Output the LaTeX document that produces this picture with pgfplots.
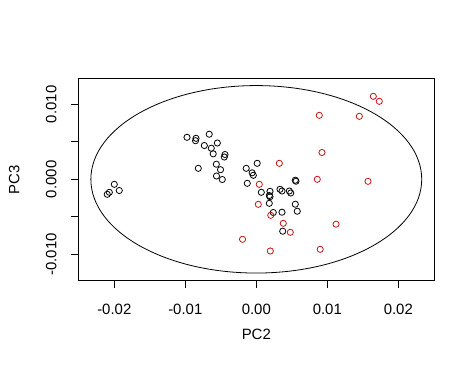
\documentclass[border=0pt]{standalone}
\usepackage{pgfplots}
\pgfplotsset{compat=1.18}
\usepackage{fontspec}
\setmainfont{Liberation Sans}
\definecolor{ptred}{RGB}{195,20,20}
\begin{document}
\begin{tikzpicture}
\begin{axis}[
  scale only axis,
  width=356bp, height=202.4bp,
  xmin=-0.02507, xmax=0.02507,
  ymin=-0.01352, ymax=0.01347,
  axis line style={line width=0.8bp},
  tick align=outside, tick pos=left,
  major tick length=7bp,
  tick style={black, line width=0.8bp},
  xtick={-0.02,-0.01,0,0.01,0.02},
  xticklabels={-0.02,-0.01,0.00,0.01,0.02},
  ytick={-0.01,-0.005,0,0.005,0.01},
  yticklabels={-0.010,,0.000,,0.010},
  scaled ticks=false,
  /pgf/number format/assume math mode=true,
  ticklabel style={font=\fontsize{15}{17}\selectfont},
  xticklabel shift=13.3bp,
  yticklabel style={rotate=90, anchor=south},
  yticklabel shift=11.3bp,
  xlabel={PC2}, ylabel={PC3},
  label style={font=\fontsize{15}{17}\selectfont},
  xlabel style={at={(axis description cs:0.5,-0.2895)}, anchor=base},
  ylabel style={at={(axis description cs:-0.1657,0.5)}, anchor=base, rotate=0},
]
\draw[line width=0.8bp] (axis cs:0,0) ellipse [x radius=0.0233, y radius=0.0125];
\addplot[only marks, mark=o, mark size=3.1bp, mark options={line width=0.8bp, draw=black}] coordinates {
(-0.02000,-0.000667) (-0.01930,-0.001493) (-0.02070,-0.001733) (-0.02099,-0.0020)
(-0.00976,0.0056) (-0.00849,0.005467) (-0.00856,0.005147) (-0.00663,0.006013)
(-0.00732,0.004507) (-0.00634,0.004147) (-0.00549,0.00484) (-0.00607,0.0034)
(-0.00441,0.003307) (-0.00451,0.002973) (-0.00817,0.001467) (-0.00563,0.002013)
(-0.00504,0.00128) (-0.00561,0.00044) (-0.00479,-0.000027)
(0.000127,0.002133) (-0.00142,0.001467) (-0.00059,0.000867) (-0.00042,0.000533)
(-0.00127,-0.000533) (0.000704,-0.001733) (0.00193,-0.0016) (0.00183,-0.00216)
(0.00193,-0.00232) (0.00334,-0.001333) (0.00362,-0.00156) (0.00465,-0.00156)
(0.00485,-0.001827) (0.00549,-0.00012) (0.00559,-0.000253) (0.00549,-0.00332)
(0.00577,-0.004253) (0.00183,-0.0032) (0.00239,-0.004427) (0.00362,-0.004387)
(0.00372,-0.00692)
};
\addplot[only marks, mark=o, mark size=3.1bp, mark options={line width=0.8bp, draw=ptred}] coordinates {
(0.00324,0.002133) (0.00042,-0.000667) (0.00028,-0.003333) (0.00203,-0.0048)
(0.0038,-0.005867) (0.00479,-0.007067) (0.00197,-0.00956) (0.009,-0.009333)
(0.01123,-0.005987) (0.00859,0.0) (0.01573,-0.000267) (0.00925,0.003573)
(0.00887,0.008533) (0.01451,0.0084) (0.01648,0.011067) (0.01732,0.0104)
(-0.00194,-0.008)
};
\end{axis}
\path ([xshift=-78.3bp,yshift=-98.3bp]current axis.south west) rectangle ([xshift=40.7bp,yshift=78.3bp]current axis.north east);
\end{tikzpicture}
\end{document}
